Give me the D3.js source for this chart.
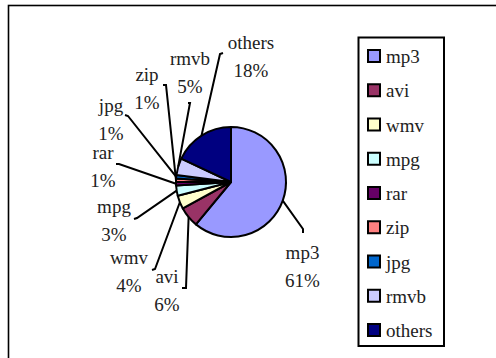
<!DOCTYPE html>
<html>
<head>
<meta charset="utf-8">
<script src="https://cdn.jsdelivr.net/npm/d3@7/dist/d3.min.js"></script>
<style>
  html, body { margin: 0; padding: 0; background: #fff; }
  svg { display: block; }
  svg text { font-family: "Times New Roman", "Liberation Serif", LiberationSerif, Tinos, "Noto Serif", "Noto Serif CJK TC", "DejaVu Serif", FreeSerif, serif; }
</style>
</head>
<body>
<svg id="chart" width="496" height="358"></svg>
<script>
// File types and their share of the total (percent)
const categories = ["mp3", "avi", "wmv", "mpg", "rar", "zip", "jpg", "rmvb", "others"];
const shares = [61, 6, 4, 3, 1, 1, 1, 5, 18];
const colors = ["#9999FF", "#993366", "#FFFFCC", "#CCFFFF", "#660066", "#FF8080", "#0066CC", "#CCCCFF", "#000080"];

// Label placement: offset of the label block from the pie centre,
// the elbow where each leader line meets its label, and the short end tick.
const labelOffsets = [[71.5, 77], [-64, 101], [-102, 82], [-117, 31], [-128, -23], [-84, -101], [-120, -70], [-41, -117], [20, -133]];
const elbowOffsets = [[72, 47], [-45, 106], [-76, 87], [-94, 36], [-112, -18], [-65, -97], [-103, -66], [-41, -79], [-11, -128]];
const tickOffsets = [[0, 4], [-4, 0], [-3, 1], [-3, 1], [-3, 0], [-3, 0], [-3, -1], [-2, 0], [3, -1]];

const svg = d3.select("#chart");

// outer chart frame
svg.append("rect")
  .attr("x", 8.5).attr("y", 5.5)
  .attr("width", 600).attr("height", 400)
  .attr("fill", "none").attr("stroke", "#000").attr("stroke-width", 1.6);

const cx = 231, cy = 182, r = 55;
const data = categories.map((c, i) => ({ name: c, value: shares[i], color: colors[i], i }));

const pie = d3.pie().sort(null).value(d => d.value);
const arcs = pie(data);
const arc = d3.arc().innerRadius(0).outerRadius(r);

const g = svg.append("g").attr("transform", `translate(${cx},${cy})`);

g.selectAll("path.slice")
  .data(arcs)
  .join("path")
  .attr("class", "slice")
  .attr("d", arc)
  .attr("fill", d => d.data.color)
  .attr("stroke", "#000")
  .attr("stroke-width", 2)
  .attr("stroke-linejoin", "round");

// leader lines from slice edge to label
const edgePoint = d => {
  const a = (d.startAngle + d.endAngle) / 2;
  return [Math.sin(a) * r, -Math.cos(a) * r];
};
const line = d3.line();
g.selectAll("path.leader")
  .data(arcs)
  .join("path")
  .attr("class", "leader")
  .attr("d", d => {
    const e = elbowOffsets[d.data.i];
    const t = tickOffsets[d.data.i];
    return line([[e[0] + t[0], e[1] + t[1]], e, edgePoint(d)]);
  })
  .attr("fill", "none")
  .attr("stroke", "#000")
  .attr("stroke-width", 2);

// data labels: category name and percentage
const fmt = d3.format(".0%");
const lbl = g.selectAll("text.lbl")
  .data(arcs)
  .join("text")
  .attr("class", "lbl")
  .attr("text-anchor", "middle")
  .attr("font-size", 19)
  .attr("fill", "#222")
  .attr("transform", d => `translate(${labelOffsets[d.data.i][0]},${labelOffsets[d.data.i][1]})`);
lbl.append("tspan").attr("x", 0).attr("y", 0).text(d => d.data.name);
lbl.append("tspan").attr("x", 0).attr("y", 27.5).text(d => fmt(d.data.value / 100));

// legend
const lg = svg.append("g").attr("transform", "translate(358,37)");
lg.append("rect")
  .attr("x", 0.5).attr("y", 0.5)
  .attr("width", 85.5).attr("height", 308.5)
  .attr("fill", "#fff").attr("stroke", "#000").attr("stroke-width", 2);

const ly = d3.scalePoint().domain(categories).range([19, 293]);
const items = lg.selectAll("g.item")
  .data(data)
  .join("g")
  .attr("class", "item")
  .attr("transform", d => `translate(0,${ly(d.name)})`);
items.append("rect")
  .attr("x", 10).attr("y", -6)
  .attr("width", 12).attr("height", 12)
  .attr("fill", d => d.color)
  .attr("stroke", "#000").attr("stroke-width", 2);
items.append("text")
  .attr("x", 28).attr("y", 7)
  .attr("font-size", 19)
  .attr("fill", "#222")
  .text(d => d.name);
</script>
</body>
</html>
